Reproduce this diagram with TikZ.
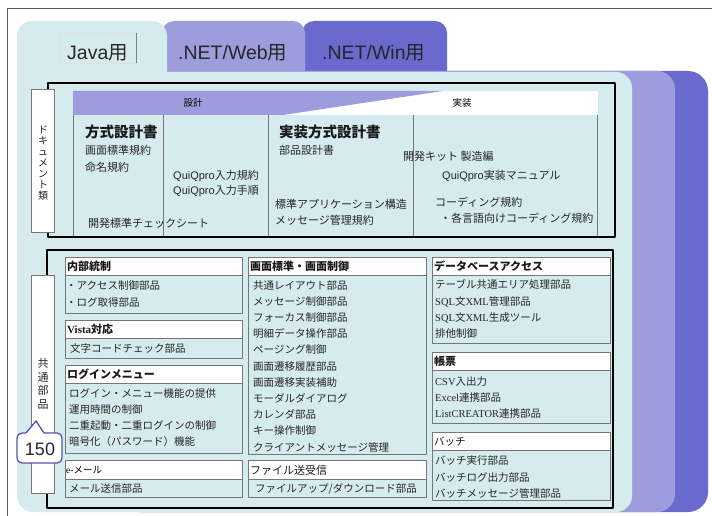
\documentclass[tikz,border=0pt]{standalone}
\usepackage{fontspec}
\setmainfont{Liberation Sans}
\newfontfamily\jp{Noto Sans CJK JP}
\newfontfamily\ser{Liberation Serif}
\newcommand\fsz[1]{\fontsize{#1}{#1}\selectfont}
\definecolor{cy}{RGB}{214,235,238}
\definecolor{lp}{RGB}{157,157,222}
\definecolor{dp}{RGB}{106,106,206}
\definecolor{gl}{RGB}{118,118,118}
\definecolor{cb}{RGB}{84,84,176}
\tikzset{
  item/.style={anchor=base west, inner sep=0, yshift=-4pt, font=\jp\fsz{10.5}, text=black!85},
  hdr/.style={anchor=base west, inner sep=0, yshift=-4.2pt, font=\jp\bfseries\fsz{11}, text=black!90},
  doc/.style={anchor=base west, inner sep=0, yshift=-4.2pt, font=\jp\fsz{11}, text=black!85},
  ttl/.style={anchor=base west, inner sep=0, yshift=-5.5pt, font=\jp\bfseries\fsz{14.5}, text=black!90},
  tablbl/.style={anchor=base west, inner sep=0, font=\fsz{19.5}, text=black!85},
  boxline/.style={draw=gl, line width=0.8},
  frame/.style={draw=black, line width=1.8},
  vlabel/.style={draw=gl, line width=0.8, fill=white},
}
\newcommand\partbox[5]{%
  \draw[boxline, fill=white] (#1,#3) rectangle (#2,#4);
  \draw[boxline] (#1,#4) rectangle (#2,#5);}
\begin{document}
\begin{tikzpicture}[x=1pt,y=-1pt, line join=round]
\useasboundingbox (0,0) rectangle (712,516);
\fill[white] (0,0) rectangle (712,516);
\draw[gray!70!black, line width=1] (7,516) -- (7,9) -- (712,9);

% back folder (.NET/Win)
\fill[dp, rounded corners=12] (302,100) -- (302,21) -- (447,21) -- (447,100) -- cycle;
\fill[dp, rounded corners=20] (120,71) -- (708,71) -- (708,512) -- (120,512) -- cycle;
% middle folder (.NET/Web)
\fill[lp, rounded corners=12] (162,100) -- (162,21) -- (305,21) -- (305,100) -- cycle;
\fill[lp, rounded corners=18] (120,71) -- (675,71) -- (675,512) -- (120,512) -- cycle;
% front folder (Java)
\fill[cy, rounded corners=15] (17,100) -- (17,21) -- (167,21) -- (167,100) -- cycle;
\fill[cy, rounded corners=16] (17,72) -- (632,72) -- (632,512) -- (17,512) -- cycle;

% tab labels
\draw[black!12, line width=0.6] (59,33) rectangle (136,63);
\draw[gray, line width=0.8] (136,33) -- (136,63);
\node[tablbl] (tjava) at (67,59.5) {Java{\jp 用}};
\node[tablbl] (tweb) at (178,59.5) {.NET/Web{\jp 用}};
\node[tablbl] (twin) at (322,59.5) {.NET/Win{\jp 用}};

% ===== document area =====
\draw[frame] (48,83) rectangle (615,237);
\fill[white] (73,91) rectangle (598,115);
\fill[lp] (73,91) -- (443,91) -- (283,115) -- (73,115) -- cycle;
\foreach \xx in {73,163,268,413,597} \draw[boxline] (\xx,115) -- (\xx,236);
\node[anchor=center, inner sep=0, font=\jp\fsz{9.5}] (bsekkei) at (193,103) {設計};
\node[anchor=center, inner sep=0, font=\jp\fsz{9.5}] (bjisso) at (462,103) {実装};

\node[ttl] (d1) at (85,132) {方式設計書};
\node[doc] (d2) at (85,150) {画面標準規約};
\node[doc] (d3) at (85,167) {命名規約};
\node[doc] (d4) at (173,175) {{\rmfamily QuiQpro}入力規約};
\node[doc] (d5) at (173,190) {{\rmfamily QuiQpro}入力手順};
\node[doc] (d6) at (88,223) {開発標準チェックシート};
\node[ttl] (d7) at (279,132) {実装方式設計書};
\node[doc] (d8) at (279,150) {部品設計書};
\node[doc] (d9) at (275,204) {標準アプリケーション構造};
\node[doc] (d10) at (275,220) {メッセージ管理規約};
\node[doc] (d11) at (403,156) {開発キット 製造編};
\node[doc] (d12) at (442,175) {{\rmfamily QuiQpro}実装マニュアル};
\node[doc] (d13) at (435,202) {コーディング規約};
\node[doc] (d14) at (440,218) {・各言語向けコーディング規約};

\draw[vlabel] (31,89) rectangle (54,232);
\node[align=center, inner sep=0, font=\jp\fontsize{10}{11}\selectfont, text=black!85] (vdoc) at (43,163)
  {ド\\キ\\ュ\\メ\\ン\\ト\\類};

% ===== common parts area =====
\draw[frame] (47,250) rectangle (613,508);

% column 1
\partbox{65}{242}{257}{275}{313}
\node[hdr] (h1) at (67,266) {内部統制};
\node[item] (i11) at (66,285) {・アクセス制御部品};
\node[item] (i12) at (66,302) {・ログ取得部品};
\partbox{65}{242}{320}{338}{358}
\node[hdr] (h2) at (67,329) {{\ser\bfseries Vista}対応};
\node[item] (i21) at (70,348) {文字コードチェック部品};
\partbox{65}{242}{365}{383}{453}
\node[hdr] (h3) at (67,374) {ログインメニュー};
\node[item] (i31) at (69,393) {ログイン・メニュー機能の提供};
\node[item] (i32) at (69,409) {運用時間の制御};
\node[item] (i33) at (69,425) {二重起動・二重ログインの制御};
\node[item] (i34) at (69,441) {暗号化（パスワード）機能};
\partbox{65}{242}{460}{479}{497}
\node[anchor=base west, inner sep=0, yshift=-3.6pt, font=\jp\fsz{9.5}] (h4) at (66,470) {{\ser e-}メール};
\node[item] (i41) at (69,488) {メール送信部品};

% column 2
\partbox{248}{426}{257}{275}{454}
\node[hdr] (h5) at (250,266) {画面標準・画面制御};
\node[item] (i51) at (253,285.0) {共通レイアウト部品};
\node[item] (i52) at (253,301.2) {メッセージ制御部品};
\node[item] (i53) at (253,317.4) {フォーカス制御部品};
\node[item] (i54) at (253,333.6) {明細データ操作部品};
\node[item] (i55) at (253,349.8) {ページング制御};
\node[item] (i56) at (253,366.0) {画面遷移履歴部品};
\node[item] (i57) at (253,382.2) {画面遷移実装補助};
\node[item] (i58) at (253,398.4) {モーダルダイアログ};
\node[item] (i59) at (253,414.6) {カレンダ部品};
\node[item] (i510) at (253,430.8) {キー操作制御};
\node[item] (i511) at (253,447.0) {クライアントメッセージ管理};
\partbox{248}{426}{460}{479}{497}
\node[anchor=base west, inner sep=0, yshift=-4.2pt, font=\jp\fsz{11}, text=black!90] (h6) at (250,470) {ファイル送受信};
\node[item] (i61) at (255,488) {ファイルアップ/ダウンロード部品};

% column 3
\partbox{432}{610}{257}{275}{343}
\node[hdr] (h7) at (434,266) {データベースアクセス};
\node[item] (i71) at (435,284) {テーブル共通エリア処理部品};
\node[item] (i72) at (435,301) {{\ser SQL}文{\ser XML}管理部品};
\node[item] (i73) at (435,317) {{\ser SQL}文{\ser XML}生成ツール};
\node[item] (i74) at (435,333) {排他制御};
\partbox{432}{610}{352}{370}{423}
\node[hdr] (h8) at (434,361) {帳票};
\node[item] (i81) at (435,381) {{\ser CSV}入出力};
\node[item] (i82) at (435,397) {{\ser Excel}連携部品};
\node[item] (i83) at (435,413) {{\ser ListCREATOR}連携部品};
\partbox{432}{610}{432}{450}{500}
\node[anchor=base west, inner sep=0, yshift=-4pt, font=\jp\fsz{10.5}, text=black!90] (h9) at (434,441) {バッチ};
\node[item] (i91) at (435,460) {バッチ実行部品};
\node[item] (i92) at (435,477) {バッチログ出力部品};
\node[item] (i93) at (435,493) {バッチメッセージ管理部品};

\draw[vlabel] (31,275) rectangle (54,493);
\node[align=center, inner sep=0, font=\jp\fontsize{11}{13.5}\selectfont, text=black!85] (vparts) at (43,384)
  {共\\通\\部\\品};

% callout 150
\draw[cb, line width=1.3, fill=white, rounded corners=5] (17,433) rectangle (62,463);
\fill[white] (26,433) -- (36,421) -- (44,433) -- (44,434.2) -- (26,434.2) -- cycle;
\draw[cb, line width=1.3, line join=miter] (26,433) -- (36,421) -- (44,433);
\node[inner sep=0, font=\fsz{18}, text=black!85] (c150) at (40,449) {150};
\end{tikzpicture}
\end{document}
